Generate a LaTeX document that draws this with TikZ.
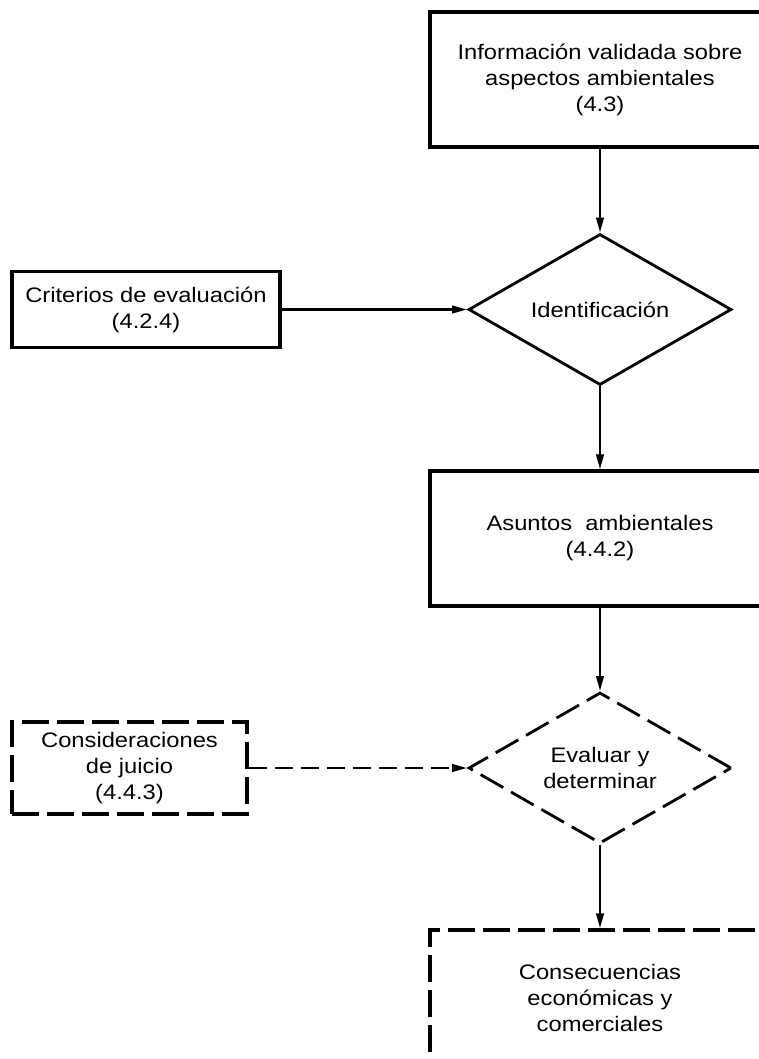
\documentclass[tikz,border=0pt]{standalone}
\usepackage{fontspec}
\setmainfont{Liberation Sans}[FakeStretch=1.13]
\usetikzlibrary{shapes.geometric,arrows.meta}
\begin{document}
\begin{tikzpicture}[x=1pt,y=-1pt,
  txt/.style={font=\fontsize{21}{26}\selectfont, align=center},
  box/.style={draw, rectangle, line width=3.2pt, inner sep=0pt, txt},
  dbox/.style={box, dash pattern=on 27pt off 8pt},
  dec/.style={draw, diamond, line width=2.8pt, inner sep=0pt, aspect=1.74, txt},
  ddec/.style={dec, dash pattern=on 26pt off 9pt},
  arr/.style={line width=2.4pt, -{Triangle[length=15pt,width=7.5pt]}},
  darr/.style={arr, dash pattern=on 18pt off 8pt}]
\useasboundingbox (0,0) rectangle (759,1059);
\clip (0,0) rectangle (759,1059);

\node[box, minimum width=340pt, minimum height=135pt] (info) at (600,79.5)
  {Información validada sobre\\aspectos ambientales\\(4.3)};
\node[dec, minimum width=263pt, minimum height=151pt] (ident) at (600,309.5)
  {Identificación};
\node[box, minimum width=268pt, minimum height=76pt] (crit) at (146,309.5)
  {Criterios de evaluación\\(4.2.4)};
\node[box, minimum width=340pt, minimum height=135pt] (asun) at (600,538.5)
  {Asuntos\ \ ambientales\\(4.4.2)};
\node[ddec, minimum width=263pt, minimum height=151pt] (eval) at (600,768)
  {Evaluar y\\determinar};
\node[dbox, minimum width=235pt, minimum height=92pt] (cons) at (129.5,768)
  {Consideraciones\\de juicio\\(4.4.3)};
\node[dbox, minimum width=340pt, minimum height=135pt] (econ) at (600,997.5)
  {Consecuencias\\económicas y\\comerciales};

\draw[arr] (info.south) -- (ident.north);
\draw[arr] (crit.east) -- (ident.west);
\draw[arr] (ident.south) -- (asun.north);
\draw[arr] (asun.south) -- (eval.north);
\draw[darr] (cons.east) -- (eval.west);
\draw[arr] (eval.south) -- (econ.north);
\end{tikzpicture}
\end{document}
